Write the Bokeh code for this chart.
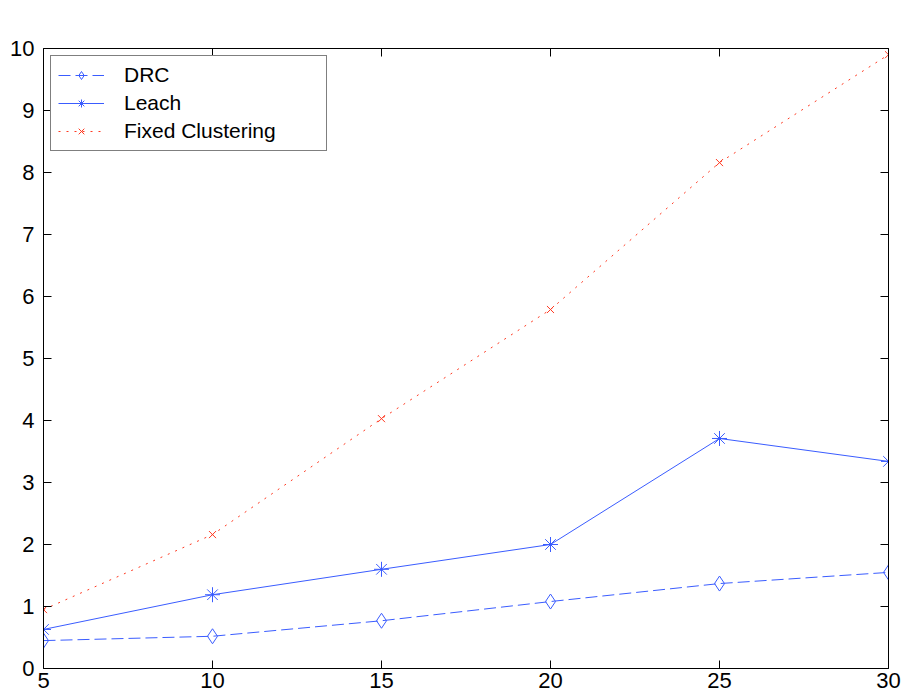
from bokeh.plotting import figure
from bokeh.models import LinearAxis, Legend, LegendItem, FixedTicker, Range1d, CustomJSTickFormatter
from bokeh.embed import file_html
from bokeh.resources import INLINE

# Number of nodes vs. metric for three clustering schemes
nodes = [5, 10, 15, 20, 25, 30]
drc = [0.45, 0.52, 0.77, 1.08, 1.37, 1.55]
leach = [0.63, 1.19, 1.60, 2.00, 3.71, 3.34]
fixed = [0.95, 2.16, 4.03, 5.79, 8.16, 9.90]

x_ticks = [5, 10, 15, 20, 25, 30]
y_ticks = [0, 1, 2, 3, 4, 5, 6, 7, 8, 9, 10]

FONT = "Liberation Sans"
BLUE = "#3a5cff"
RED = "#ff3a22"

p = figure(width=903, height=698, output_backend="svg", toolbar_location=None,
           x_range=Range1d(5, 30), y_range=Range1d(0, 10),
           x_axis_location=None, y_axis_location=None,
           min_border_left=43, min_border_right=15, min_border_top=48, min_border_bottom=30)
p.outline_line_color = None
p.xgrid.visible = False
p.ygrid.visible = False
p.background_fill_color = "white"
p.border_fill_color = "white"


def style_axis(ax, ticks, labels=True, standoff=6):
    ax.ticker = FixedTicker(ticks=ticks)
    ax.major_tick_in = 8
    ax.major_tick_out = 0
    ax.minor_tick_line_color = None
    ax.axis_line_color = "black"
    ax.axis_line_width = 1
    ax.major_tick_line_color = "black"
    ax.major_label_text_font = FONT
    ax.major_label_text_font_size = "22px"
    ax.major_label_text_color = "black"
    if labels:
        ax.major_label_standoff = standoff
    else:
        ax.formatter = CustomJSTickFormatter(code="return ''")
        ax.major_label_standoff = 0
        ax.major_label_text_font_size = "0px"


bottom = LinearAxis()
style_axis(bottom, x_ticks, standoff=4)
p.add_layout(bottom, "below")
left = LinearAxis()
style_axis(left, y_ticks, standoff=9)
p.add_layout(left, "left")
top = LinearAxis()
style_axis(top, x_ticks, labels=False)
p.add_layout(top, "above")
right = LinearAxis()
style_axis(right, y_ticks, labels=False)
p.add_layout(right, "right")

# DRC: dashed line with diamonds
l1 = p.line(nodes, drc, line_color=BLUE, line_width=1, line_dash="12 5")
m1 = p.scatter(nodes, drc, marker="diamond", size=15,
               line_color=BLUE, fill_color=None, line_width=1)

# Leach: solid line with asterisks
l2 = p.line(nodes, leach, line_color=BLUE, line_width=1)
m2 = p.scatter(nodes, leach, marker="asterisk", size=15, line_color=BLUE, line_width=1)

# Fixed Clustering: dotted line with crosses
l3 = p.line(nodes, fixed, line_color=RED, line_width=1, line_dash="2 6")
m3 = p.scatter(nodes, fixed, marker="x", size=10, line_color=RED, line_width=1)

legend = Legend(items=[
    LegendItem(label="DRC", renderers=[l1, m1]),
    LegendItem(label="Leach", renderers=[l2, m2]),
    LegendItem(label="Fixed Clustering", renderers=[l3, m3]),
], location="top_left")
legend.margin = 7
legend.padding = 7
legend.spacing = 4
legend.glyph_width = 46
legend.glyph_height = 20
legend.label_height = 20
legend.label_width = 195
legend.label_standoff = 20
legend.label_text_font = FONT
legend.label_text_font_size = "21px"
legend.label_text_color = "black"
legend.border_line_color = "black"
legend.border_line_width = 1
legend.background_fill_color = "white"
legend.background_fill_alpha = 1
p.add_layout(legend, "center")

open("out.html", "w").write(file_html(p, INLINE))
